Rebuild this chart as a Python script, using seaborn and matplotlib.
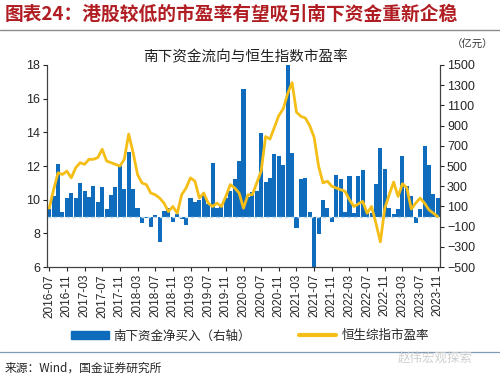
import numpy as np
import pandas as pd
import matplotlib
matplotlib.use("Agg")
import matplotlib.pyplot as plt
import matplotlib.patches as mpatches
import matplotlib.lines as mlines
import seaborn as sns

# monthly data, 2016-07 .. 2023-11
months = pd.date_range("2016-07-01", "2023-11-01", freq="MS").strftime("%Y-%m").tolist()

# 南下资金净买入 (亿元, right axis)
southbound = [80, 205, 518, 50, 180, 230, 180, 335, 250, 190,
              300, 140, 295, 75, 215, 290, 510, 270, 640, 270,
              90, -66, -17, -100, 17, -248, 60, 90, -50, 23,
              -23, -80, 180, 140, 160, 215, 125, 535, 90, 115,
              180, 255, 375, 550, 1265, 190, 240, 250, 830, 345,
              380, 620, 600, 510, 1510, 630, -115, 370, 380, 50,
              -530, -175, 160, 90, -50, 410, 370, 45, 405, 40,
              405, 465, 65, 35, 320, 680, 470, 90, 25, 80,
              600, 305, 205, -65, 80, 700, 510, 220, 180]

# 恒生综指市盈率 (left axis)
pe_ratio = [9.5, 10.6, 11.6, 11.5, 11.7, 11.3, 11.9, 12.2, 12.1, 12.4,
            12.4, 12.5, 13.0, 12.3, 12.2, 12.1, 12.0, 12.4, 13.9, 12.8,
            11.5, 11.0, 10.9, 10.4, 10.3, 10.1, 9.8, 9.3, 9.6, 9.2,
            10.3, 10.7, 11.3, 11.1, 10.1, 10.4, 9.8, 9.6, 9.8, 9.6,
            10.2, 10.9, 10.7, 10.4, 9.5, 10.3, 10.3, 11.0, 11.7, 13.75,
            13.6, 14.3, 15.0, 15.4, 16.3, 16.95, 15.2, 14.95, 14.85, 14.4,
            13.7, 12.0, 11.0, 11.1, 10.8, 10.7, 10.6, 10.5, 10.0, 9.6,
            9.75, 9.9, 9.2, 9.6, 8.6, 7.5, 9.5, 10.3, 11.05, 10.2,
            10.95, 10.7, 9.45, 9.8, 10.1, 9.8, 9.4, 9.2, 9.0]

bar_color = "#0F6CBD"
line_color = "#F5BE16"

sns.set_style("white")
plt.rcParams["font.family"] = ["Liberation Sans", "Noto Sans CJK SC"]
plt.rcParams["axes.unicode_minus"] = True

fig = plt.figure(figsize=(5, 3.8), dpi=100)
ax = fig.add_axes([0.094, 0.297, 0.786, 0.532])

# bars on the right-hand scale
df = pd.DataFrame({"month": months, "flow": southbound})
sns.barplot(data=df, x="month", y="flow", color=bar_color, saturation=1,
            width=0.92, linewidth=0, ax=ax)
ax.axhline(0, color="#BDD7EE", lw=1.0, ls=(0, (2.5, 2)), zorder=3)

# line on the left-hand scale
ax2 = ax.twinx()
sns.lineplot(x=np.arange(len(pe_ratio)), y=pe_ratio, color=line_color,
             linewidth=2.0, ax=ax2)

# swap sides: bars' scale on the right, PE scale on the left
ax.set_ylim(-500, 1500)
ax.set_yticks(range(-500, 1501, 200))
ax.yaxis.tick_right()
ax.yaxis.set_label_position("right")
ax.set_xlim(-0.5, len(months) - 0.5)
ax.set_xticks(range(0, len(months), 4))
ax.set_xticklabels(months[::4], rotation=90, fontsize=8.5)
ax.tick_params(axis="y", labelsize=9, direction="out", length=3, pad=2,
               right=True, left=False, labelright=True, labelleft=False)
ax.tick_params(axis="x", direction="out", length=3, pad=2, bottom=True)
ax.set_xlabel("")
ax.set_ylabel("")

ax2.set_ylim(6, 18)
ax2.set_yticks(range(6, 19, 2))
ax2.yaxis.tick_left()
ax2.tick_params(axis="y", labelsize=9, direction="out", length=3, pad=2,
                left=True, right=False, labelleft=True, labelright=False)
ax2.set_xlim(-0.5, len(months) - 0.5)
ax2.set_ylabel("")

for a in (ax, ax2):
    a.spines["top"].set_visible(False)
    for s in ("left", "right", "bottom"):
        a.spines[s].set_color("#404040")
        a.spines[s].set_linewidth(0.8)

# titles and notes
fig.text(0.01, 0.962, "图表24：港股较低的市盈率有望吸引南下资金重新企稳",
         fontsize=13.5, fontweight="bold", color="#B01E23",
         ha="left", va="center", family=["Noto Sans CJK SC"])
fig.add_artist(mlines.Line2D([0, 1], [0.922, 0.922], color="#8C8C8C", lw=1.0))
fig.text(0.49, 0.85, "南下资金流向与恒生指数市盈率", fontsize=10.5,
         ha="center", va="center", color="#222222", family=["Noto Sans CJK SC"])
fig.text(0.945, 0.882, "（亿元）", fontsize=7.5, ha="center", va="center",
         color="#333333", family=["Noto Sans CJK SC"])

handles = [mpatches.Patch(color=bar_color),
           mlines.Line2D([], [], color=line_color, lw=3)]
fig.legend(handles, ["南下资金净买入（右轴）", "恒生综指市盈率"],
           loc="center", bbox_to_anchor=(0.5, 0.116), ncol=2, frameon=False,
           handlelength=3.0, handleheight=0.5, handletextpad=0.4,
           columnspacing=3.8, prop={"family": ["Noto Sans CJK SC"], "size": 9})

fig.add_artist(mlines.Line2D([0, 1], [0.073, 0.073], color="#7F9BB5", lw=0.9))
fig.text(0.01, 0.032, "来源：Wind，国金证券研究所", fontsize=8.5,
         ha="left", va="center", family=["Noto Sans CJK SC"])
fig.text(0.87, 0.058, "赵伟宏观探索", fontsize=9, ha="center", va="center",
         color="#D0D0D0", family=["Noto Sans CJK SC"])

fig.savefig("out.png", dpi=100)
